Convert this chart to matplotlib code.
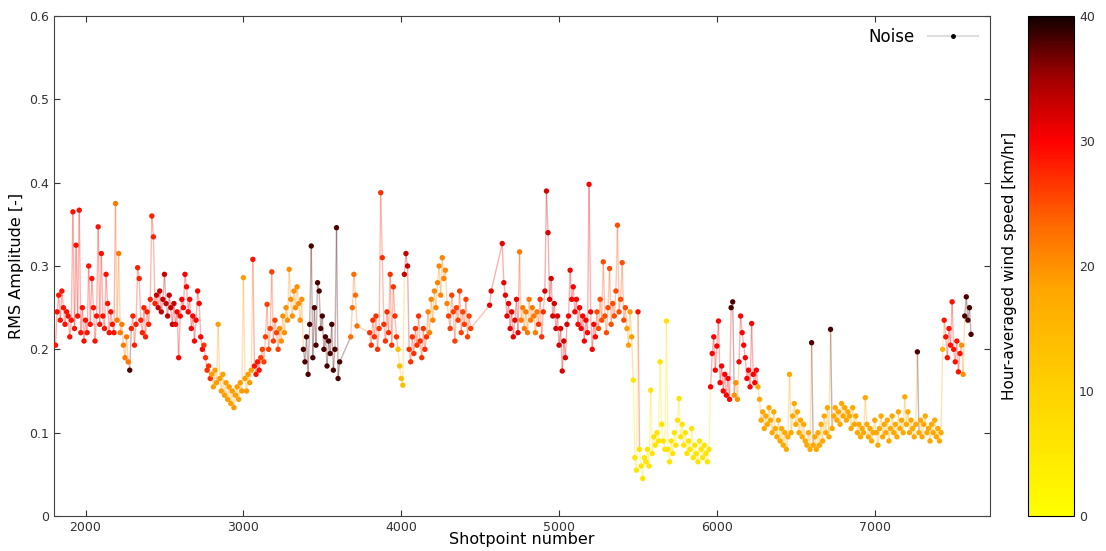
import numpy as np
import matplotlib
matplotlib.use('Agg')
import matplotlib.pyplot as plt
from matplotlib.colors import LinearSegmentedColormap, Normalize
from matplotlib.collections import LineCollection
from matplotlib.lines import Line2D
from matplotlib.ticker import FuncFormatter

# Segmentos de disparos: inicio, viento medio horario [km/hr] y amplitudes RMS (paso de 10 disparos)
paso = 10
seg_inicio = [1810, 2190, 2280, 2290, 2450, 2570, 2750, 2800, 3060, 3110, 3230, 3380,
              3680, 3800, 3980, 4020, 4050, 4170, 4300, 4560, 4640, 4750, 4870, 4910,
              5060, 5240, 5430, 5470, 5500, 5510, 5960, 6090, 6110, 6140, 6260, 6600,
              6610, 6720, 6730, 7270, 7280, 7430, 7440, 7550, 7570]
seg_viento = [29, 22, 38, 28, 33, 30, 27, 19, 29, 26, 20, 38,
              23, 27, 14, 33, 27, 21, 26, 31, 31, 22, 27, 32,
              30, 25, 19, 6, 29, 6, 30, 38, 20, 30, 18, 38,
              18, 38, 18, 38, 18, 16, 29, 20, 38]
seg_amp = [
    [0.205, 0.245, 0.265, 0.235, 0.27, 0.25, 0.23, 0.245, 0.24, 0.215, 0.235, 0.365, 0.225,
     0.325, 0.24, 0.367, 0.22, 0.25, 0.21, 0.235, 0.22, 0.30, 0.23, 0.285, 0.25, 0.21, 0.24,
     0.347, 0.23, 0.315, 0.24, 0.225, 0.29, 0.255, 0.22, 0.245, 0.23, 0.22],
    [0.375, 0.235, 0.315, 0.22, 0.23, 0.205, 0.19, 0.215, 0.185],
    [0.175],
    [0.225, 0.24, 0.205, 0.23, 0.298, 0.285, 0.235, 0.22, 0.25, 0.215, 0.245, 0.23, 0.26,
     0.36, 0.335, 0.255],
    [0.265, 0.25, 0.27, 0.245, 0.26, 0.29, 0.255, 0.24, 0.265, 0.25, 0.23, 0.255],
    [0.23, 0.245, 0.19, 0.24, 0.26, 0.25, 0.29, 0.275, 0.245, 0.26, 0.225, 0.24, 0.21,
     0.235, 0.27, 0.255, 0.215, 0.2],
    [0.205, 0.19, 0.175, 0.18, 0.165],
    [0.17, 0.155, 0.175, 0.16, 0.23, 0.165, 0.15, 0.17, 0.145, 0.16, 0.14, 0.155, 0.135,
     0.15, 0.13, 0.145, 0.155, 0.14, 0.16, 0.15, 0.286, 0.165, 0.15, 0.17, 0.16, 0.175],
    [0.308, 0.18, 0.17, 0.185, 0.175],
    [0.19, 0.2, 0.185, 0.215, 0.254, 0.2, 0.225, 0.293, 0.21, 0.235, 0.22, 0.2],
    [0.225, 0.21, 0.24, 0.22, 0.25, 0.235, 0.296, 0.26, 0.24, 0.27, 0.25, 0.275, 0.255,
     0.235, 0.26],
    [0.2, 0.185, 0.215, 0.17, 0.23, 0.324, 0.19, 0.25, 0.205, 0.28, 0.27, 0.225, 0.24,
     0.2, 0.215, 0.18, 0.21, 0.195, 0.23, 0.175, 0.2, 0.346, 0.165, 0.185],
    [0.215, 0.25, 0.29, 0.265, 0.228],
    [0.22, 0.205, 0.235, 0.215, 0.24, 0.2, 0.225, 0.388, 0.31, 0.23, 0.21, 0.245, 0.22,
     0.29, 0.205, 0.275, 0.24, 0.215],
    [0.2, 0.18, 0.165, 0.157],
    [0.29, 0.315, 0.3],
    [0.2, 0.185, 0.215, 0.195, 0.225, 0.205, 0.24, 0.21, 0.19, 0.225, 0.2, 0.215],
    [0.245, 0.22, 0.26, 0.235, 0.27, 0.25, 0.28, 0.3, 0.265, 0.31, 0.285, 0.295, 0.255],
    [0.24, 0.225, 0.265, 0.245, 0.21, 0.25, 0.235, 0.27, 0.22, 0.245, 0.23, 0.26, 0.215,
     0.24, 0.225],
    [0.253, 0.27],
    [0.327, 0.28, 0.265, 0.24, 0.255, 0.225, 0.245, 0.215, 0.235, 0.26, 0.22],
    [0.317, 0.235, 0.25, 0.225, 0.245, 0.22, 0.26, 0.235, 0.25, 0.24, 0.22, 0.245],
    [0.23, 0.26, 0.215, 0.245],
    [0.27, 0.39, 0.34, 0.26, 0.285, 0.24, 0.255, 0.225, 0.24, 0.205, 0.225, 0.174, 0.21,
     0.19, 0.23],
    [0.24, 0.295, 0.26, 0.275, 0.245, 0.26, 0.23, 0.25, 0.225, 0.24, 0.21, 0.235, 0.22,
     0.398, 0.245, 0.2, 0.23, 0.215],
    [0.245, 0.225, 0.26, 0.235, 0.305, 0.24, 0.22, 0.25, 0.297, 0.23, 0.255, 0.24, 0.27,
     0.349, 0.245, 0.26, 0.304, 0.235, 0.25],
    [0.225, 0.205, 0.245, 0.215],
    [0.163, 0.07, 0.055],
    [0.245],
    [0.08, 0.06, 0.045, 0.07, 0.065, 0.08, 0.06, 0.151, 0.075, 0.095, 0.085, 0.1, 0.09,
     0.185, 0.11, 0.09, 0.08, 0.234, 0.08, 0.065, 0.09, 0.075, 0.1, 0.085, 0.115, 0.141,
     0.095, 0.11, 0.085, 0.1, 0.075, 0.09, 0.08, 0.105, 0.07, 0.085, 0.075, 0.065, 0.09,
     0.08, 0.07, 0.085, 0.075, 0.065, 0.08],
    [0.155, 0.195, 0.215, 0.175, 0.204, 0.234, 0.16, 0.18, 0.15, 0.17, 0.145, 0.165, 0.14],
    [0.25, 0.257],
    [0.145, 0.16, 0.14],
    [0.185, 0.24, 0.22, 0.205, 0.19, 0.165, 0.175, 0.155, 0.231, 0.17, 0.16, 0.175],
    [0.155, 0.14, 0.115, 0.125, 0.105, 0.12, 0.11, 0.13, 0.115, 0.1, 0.125, 0.105, 0.095,
     0.115, 0.09, 0.105, 0.085, 0.1, 0.08, 0.095, 0.17, 0.1, 0.12, 0.135, 0.11, 0.125, 0.1,
     0.115, 0.095, 0.11, 0.09, 0.085, 0.1, 0.08],
    [0.208],
    [0.085, 0.095, 0.08, 0.1, 0.085, 0.11, 0.09, 0.12, 0.1, 0.13, 0.095],
    [0.224],
    [0.105, 0.12, 0.13, 0.115, 0.125, 0.11, 0.135, 0.12, 0.13, 0.115, 0.125, 0.12, 0.105,
     0.13, 0.11, 0.12, 0.1, 0.11, 0.095, 0.105, 0.1, 0.142, 0.11, 0.095, 0.105, 0.09, 0.1,
     0.115, 0.1, 0.085, 0.105, 0.12, 0.095, 0.11, 0.1, 0.115, 0.09, 0.105, 0.12, 0.1, 0.11,
     0.095, 0.125, 0.105, 0.115, 0.1, 0.143, 0.11, 0.125, 0.1, 0.115, 0.105, 0.095, 0.11],
    [0.197],
    [0.1, 0.115, 0.095, 0.11, 0.12, 0.1, 0.105, 0.09, 0.11, 0.1, 0.115, 0.095, 0.105, 0.09,
     0.1],
    [0.2],
    [0.235, 0.215, 0.19, 0.225, 0.205, 0.257, 0.2, 0.185, 0.21, 0.173, 0.195],
    [0.205, 0.17],
    [0.24, 0.263, 0.235, 0.25, 0.218],
]

y_ticks = [0, 0.1, 0.2, 0.3, 0.4, 0.5, 0.6]
x_ticks = [2000, 3000, 4000, 5000, 6000, 7000]
cb_ticks = [0, 10, 20, 30, 40]

# juntar los segmentos en una sola serie
disparo, amp, viento = [], [], []
for x0, w, vals in zip(seg_inicio, seg_viento, seg_amp):
    disparo += list(x0 + paso * np.arange(len(vals)))
    amp += vals
    viento += [w] * len(vals)
disparo = np.array(disparo)
amp = np.array(amp)
viento = np.array(viento)

# mapa de color: amarillo -> naranja -> rojo -> negro
cmap = LinearSegmentedColormap.from_list('viento', [
    (0.0, '#ffff00'), (0.25, '#ffd200'), (0.45, '#ffa800'), (0.58, '#ff6a00'),
    (0.75, '#ff0000'), (0.88, '#a00000'), (1.0, '#140000')])
norm = Normalize(0, 40)

fig = plt.figure(figsize=(11.06, 5.51), dpi=100)
ax = fig.add_axes([0.0488, 0.0635, 0.8463, 0.9074])

puntos = np.column_stack([disparo, amp])
tramos = np.stack([puntos[:-1], puntos[1:]], axis=1)
lc = LineCollection(tramos, colors=cmap(norm(viento[:-1])), linewidths=1.0, alpha=0.3)
ax.add_collection(lc)
sc = ax.scatter(disparo, amp, c=viento, cmap=cmap, norm=norm, s=15, linewidths=0, zorder=3)

ax.set_xlim(1800, 7730)
ax.set_ylim(0, 0.6)
ax.set_xticks(x_ticks)
ax.set_yticks(y_ticks)
ax.yaxis.set_major_formatter(FuncFormatter(lambda v, p: '0' if v == 0 else f'{v:.1f}'))
ax.tick_params(direction='in', top=True, right=True, labelsize=9, colors='#333333', length=4)
for s in ax.spines.values():
    s.set_color('#444444')
ax.set_xlabel('Shotpoint number', fontsize=11.5, labelpad=-1)
ax.set_ylabel('RMS Amplitude [-]', fontsize=11.5, labelpad=4)

h = Line2D([], [], color='#dddddd', lw=1.5, marker='.', markerfacecolor='k',
           markeredgecolor='k', markersize=5)
ax.legend([h], ['Noise'], loc='upper right', frameon=False, markerfirst=False,
          fontsize=12, handlelength=3, borderaxespad=0.3)

cax = fig.add_axes([0.9295, 0.0635, 0.0416, 0.9074])
cb = fig.colorbar(sc, cax=cax, ticks=cb_ticks)
cb.ax.tick_params(labelsize=9, colors='#333333', direction='in', length=0)
cb.ax.yaxis.set_label_position('left')
cb.set_label('Hour-averaged wind speed [km/hr]', fontsize=11, labelpad=8)

fig.savefig('out.png', dpi=100)
